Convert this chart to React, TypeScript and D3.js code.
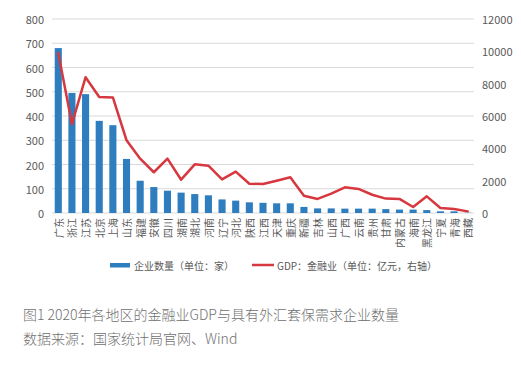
import React, { useEffect, useRef } from 'react';
import * as d3 from 'd3';

const categories = ['广东', '浙江', '江苏', '北京', '上海', '山东', '福建', '安徽', '四川', '湖南', '湖北', '河南', '辽宁', '河北', '陕西', '江西', '天津', '重庆', '新疆', '吉林', '山西', '广西', '云南', '贵州', '甘肃', '内蒙古', '海南', '黑龙江', '宁夏', '青海', '西藏'];
const firmCounts = [680, 495, 490, 380, 362, 223, 133, 107, 92, 84, 78, 73, 56, 51, 44, 42, 40, 40, 25, 19, 19, 18, 18, 18, 16, 14, 14, 12, 7, 7, 1];
const financeGdp = [9900, 5500, 8400, 7180, 7150, 4500, 3360, 2520, 3360, 2060, 3010, 2930, 2080, 2560, 1810, 1790, 2000, 2210, 1070, 870, 1200, 1590, 1490, 1130, 890, 870, 370, 1030, 310, 250, 100];
const leftTicks = [0, 100, 200, 300, 400, 500, 600, 700, 800];
const rightTicks = [0, 2000, 4000, 6000, 8000, 10000, 12000];

const W = 521;
const H = 369;
const BLUE = '#2e7ebf';
const RED = '#d7373f';
const GREY = '#595959';
const FONT = '"Noto Sans CJK SC", "Noto Sans", sans-serif';

const App = () => {
    const svgRef = useRef<SVGSVGElement>(null);

    useEffect(() => {
        if (!svgRef.current) return;
        const svg = d3.select(svgRef.current);
        svg.selectAll('*').remove();

        const plot = { left: 52, right: 474, top: 19, bottom: 213 };

        const x = d3.scaleBand()
            .domain(categories)
            .range([plot.left, plot.right])
            .paddingInner(0.48)
            .paddingOuter(0.2);

        const yL = d3.scaleLinear().domain([0, 800]).range([plot.bottom, plot.top]);
        const yR = d3.scaleLinear().domain([0, 12000]).range([plot.bottom, plot.top]);

        // gridlines
        svg.append('g')
            .selectAll('line')
            .data(leftTicks)
            .join('line')
            .attr('x1', plot.left)
            .attr('x2', plot.right)
            .attr('y1', d => yL(d))
            .attr('y2', d => yL(d))
            .attr('stroke', '#d9d9d9')
            .attr('stroke-width', 1.2);

        // left axis labels
        svg.append('g')
            .selectAll('text')
            .data(leftTicks)
            .join('text')
            .attr('x', 44)
            .attr('y', d => yL(d))
            .attr('dominant-baseline', 'central')
            .attr('text-anchor', 'end')
            .attr('font-family', FONT)
            .attr('font-size', 11)
            .attr('fill', GREY)
            .text(d => d);

        // right axis labels
        svg.append('g')
            .selectAll('text')
            .data(rightTicks)
            .join('text')
            .attr('x', 482)
            .attr('y', d => yR(d))
            .attr('dominant-baseline', 'central')
            .attr('text-anchor', 'start')
            .attr('font-family', FONT)
            .attr('font-size', 11)
            .attr('fill', GREY)
            .text(d => d);

        // bars
        svg.append('g')
            .selectAll('rect')
            .data(categories)
            .join('rect')
            .attr('x', d => x(d) || 0)
            .attr('width', x.bandwidth())
            .attr('y', (d, i) => yL(firmCounts[i]))
            .attr('height', (d, i) => plot.bottom - yL(firmCounts[i]))
            .attr('fill', BLUE);

        // GDP line
        const line = d3.line<number>()
            .x((d, i) => (x(categories[i]) || 0) + x.bandwidth() / 2)
            .y(d => yR(d));

        svg.append('path')
            .datum(financeGdp)
            .attr('d', line)
            .attr('fill', 'none')
            .attr('stroke', RED)
            .attr('stroke-width', 2.5)
            .attr('stroke-linejoin', 'round')
            .attr('stroke-linecap', 'round');

        // category labels, rotated
        svg.append('g')
            .selectAll('text')
            .data(categories)
            .join('text')
            .attr('transform', d => `translate(${(x(d) || 0) + x.bandwidth() / 2},218) rotate(-90)`)
            .attr('text-anchor', 'end')
            .attr('dominant-baseline', 'central')
            .attr('font-family', FONT)
            .attr('font-size', 10)
            .attr('fill', GREY)
            .text(d => d);

        // legend
        const lg = svg.append('g').attr('font-family', FONT).attr('font-size', 10).attr('fill', GREY);
        lg.append('rect').attr('x', 110).attr('y', 263).attr('width', 20).attr('height', 4.5).attr('fill', BLUE);
        lg.append('text').attr('x', 134).attr('y', 265.5).attr('dominant-baseline', 'central').text('企业数量（单位：家）');
        lg.append('line').attr('x1', 252).attr('x2', 274).attr('y1', 265).attr('y2', 265)
            .attr('stroke', RED).attr('stroke-width', 2.5);
        lg.append('text').attr('x', 277).attr('y', 265.5).attr('dominant-baseline', 'central').text('GDP：金融业（单位：亿元，右轴）');

        // caption
        const cap = svg.append('g').attr('font-family', FONT).attr('font-size', 14)
            .attr('font-weight', 300).attr('fill', '#707070');
        cap.append('text').attr('x', 23).attr('y', 320).text('图1 2020年各地区的金融业GDP与具有外汇套保需求企业数量');
        cap.append('text').attr('x', 23).attr('y', 344).text('数据来源：国家统计局官网、Wind');
    }, []);

    return (
        <svg
            ref={svgRef}
            width={W}
            height={H}
            viewBox={`0 0 ${W} ${H}`}
            style={{ position: 'absolute', left: 0, top: 0, display: 'block', background: '#fff' }}
        />
    );
};

export default App;
